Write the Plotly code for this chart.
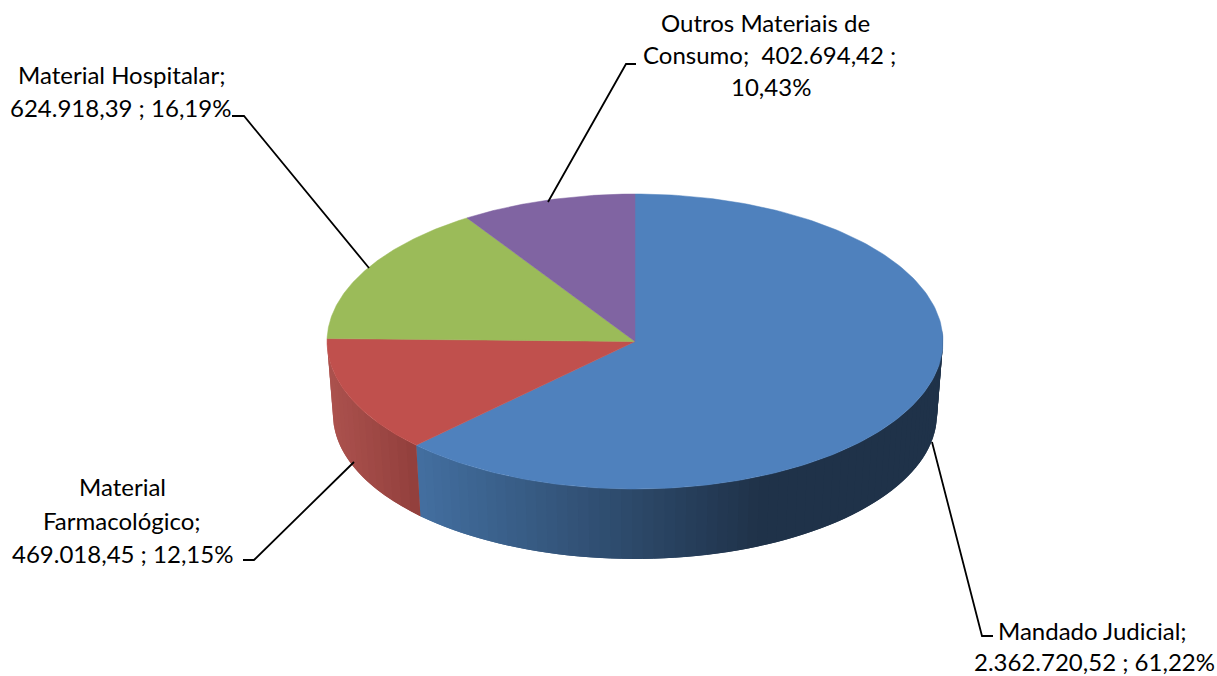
import numpy as np
import plotly.graph_objects as go

# ---- data ----
categories = ["Mandado Judicial", "Material Farmacológico", "Material Hospitalar", "Outros Materiais de Consumo"]
values = [2362720.52, 469018.45, 624918.39, 402694.42]
label_lines = [
    ["Mandado Judicial;", "2.362.720,52 ; 61,22%"],
    ["Material", "Farmacológico;", "469.018,45 ; 12,15%"],
    ["Material Hospitalar;", "624.918,39 ; 16,19%"],
    ["Outros Materiais de", "Consumo;  402.694,42 ;", "10,43%"],
]

# ---- style / geometry ----
top_colors = ["#4f81bd", "#c0504d", "#9bbb59", "#8064a2"]
TOP = dict(cx=635, cy=341.5, rx=308, ry=147.5)
BOT = dict(cx=635, cy=414.5, rx=302, ry=144.5)
# Excel's perspective pushes slice edges a few degrees along the ellipse
edge_shift = [0, 4.9, 7.0, 4.5, 0]
label_pos = [
    [(1092, 630), (1094, 661)],
    [(122, 486), (122, 520), (122, 553)],
    [(121, 74), (120, 107)],
    [(765, 22), (769, 54), (771, 86)],
]
leaders = [
    [(932, 442), (982, 636), (993, 636)],
    [(354, 462), (254, 560), (243, 560)],
    [(369, 268), (244, 116), (232, 116)],
    [(548, 202), (626, 64), (636, 64)],
]

total = sum(values)
cum = np.concatenate([[0], np.cumsum(values)]) / total * 360
edges = cum + np.array(edge_shift)


def ell(e, deg):
    t = np.radians(deg)
    return e["cx"] + e["rx"] * np.sin(t), e["cy"] - e["ry"] * np.cos(t)


def mix(c1, c2, f):
    return "rgb(%d,%d,%d)" % tuple(round(a + (b - a) * f) for a, b in zip(c1, c2))


fig = go.Figure()


def strip(a0, a1, color):
    xt, yt = ell(TOP, np.linspace(a0, a1, 5))
    xb, yb = ell(BOT, np.linspace(a1, a0, 5))
    fig.add_trace(go.Scatter(
        x=np.r_[xt, xb, xt[0]], y=np.r_[yt, yb, yt[0]], mode="lines", fill="toself",
        fillcolor=color, line=dict(width=0), hoverinfo="skip", showlegend=False))


# each strip runs on under the next one, so no seam shows between them
# side wall, blue slice: dark from the right edge, lightening towards the left
blue_dark, blue_light = (31, 50, 73), (67, 111, 160)
steps = np.linspace(85, edges[1], 70)
for k in range(len(steps) - 1):
    a0, a1 = steps[k], steps[min(k + 2, len(steps) - 1)]
    xm = ell(TOP, (steps[k] + steps[k + 1]) / 2)[0]
    f = np.clip((760 - xm) / (760 - 416), 0, 1)
    strip(a0, a1, mix(blue_dark, blue_light, f))

# side wall, red slice
red_dark, red_light = (146, 63, 60), (172, 82, 78)
steps = np.linspace(edges[2], edges[1], 18)
for k in range(len(steps) - 1):
    a0, a1 = steps[k], steps[min(k + 2, len(steps) - 1)]
    xm = ell(TOP, (steps[k] + steps[k + 1]) / 2)[0]
    f = np.clip((416 - xm) / (416 - 327), 0, 1)
    strip(a0, a1, mix(red_dark, red_light, f))

# top faces
for i, name in enumerate(categories):
    xs, ys = ell(TOP, np.linspace(edges[i], edges[i + 1], 200))
    fig.add_trace(go.Scatter(
        x=np.r_[TOP["cx"], xs, TOP["cx"]], y=np.r_[TOP["cy"], ys, TOP["cy"]],
        mode="lines", fill="toself", fillcolor=top_colors[i],
        line=dict(color=top_colors[i], width=0.5), name=name, hoverinfo="name", showlegend=False))

# leader lines
for pts in leaders:
    fig.add_trace(go.Scatter(
        x=[p[0] for p in pts], y=[p[1] for p in pts], mode="lines",
        line=dict(color="#000000", width=1.8), hoverinfo="skip", showlegend=False))

# labels
for lines, poss in zip(label_lines, label_pos):
    for text, (x, y) in zip(lines, poss):
        fig.add_annotation(x=x, y=y, text=text, showarrow=False, xanchor="center", yanchor="middle",
                           font=dict(family="Lato", size=24, color="#000000"))

fig.update_layout(
    width=1217, height=676, margin=dict(l=0, r=0, t=0, b=0),
    paper_bgcolor="#ffffff", plot_bgcolor="#ffffff",
    xaxis=dict(range=[0, 1217], visible=False, fixedrange=True),
    yaxis=dict(range=[676, 0], visible=False, fixedrange=True),
)
fig.write_html("out.html", config=dict(displayModeBar=False),
               post_script="document.body.style.margin='0';document.body.style.overflow='hidden';")
